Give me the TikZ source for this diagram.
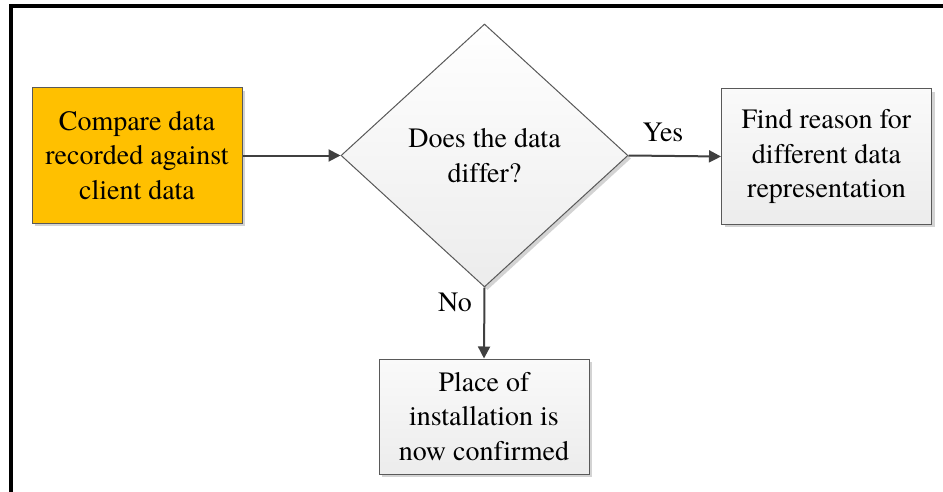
\documentclass[tikz,border=0pt]{standalone}
\usepackage{fontspec}
\setmainfont{texgyretermes-regular.otf}[Ligatures=NoCommon]
\newfontfamily\flowfont{texgyretermes-regular.otf}[Ligatures=NoCommon]
\usetikzlibrary{shapes.geometric,arrows.meta,shadows}

\tikzset{every picture/.style={line width=0.75pt}}
\tikzset{
  procbox/.style={draw={rgb,255:red,89;green,89;blue,89}, line width=0.75pt, minimum width=157.5pt, minimum height=101.25pt, inner sep=0.75pt, align=center, font=\flowfont\fontsize{21}{26}\selectfont, drop shadow={shadow xshift=2.25pt, shadow yshift=-2.25pt, fill={rgb,255:red,200;green,200;blue,200}, opacity=0.8}},
  greybox/.style={procbox, top color={rgb,255:red,250;green,250;blue,250}, bottom color={rgb,255:red,236;green,236;blue,236}},
  decision/.style={diamond, draw={rgb,255:red,89;green,89;blue,89}, line width=0.75pt, minimum width=215.25pt, minimum height=197.25pt, inner sep=0pt, align=center, font=\flowfont\fontsize{21}{26}\selectfont, top color=white, bottom color={rgb,255:red,236;green,236;blue,236}, drop shadow={shadow xshift=2.25pt, shadow yshift=-2.25pt, fill={rgb,255:red,200;green,200;blue,200}, opacity=0.8}},
  flow/.style={draw={rgb,255:red,64;green,64;blue,64}, line width=1.5pt, -{Triangle[length=9pt,width=9pt]}},
  answer/.style={inner sep=0.75pt, font=\flowfont\fontsize{21}{26}\selectfont}
}

\begin{document}
\begin{tikzpicture}[x=0.75pt,y=0.75pt,yscale=-1,xscale=1]
\useasboundingbox (0,0) rectangle (943,492);

%Frame: top and left edge
\draw [line width=3pt] (11,492) -- (11,6) -- (943,6) ;

%Shape: Rectangle [id:compare]
\node (compare) [procbox, fill={rgb,255:red,255;green,192;blue,0}] at (137,155.5) {Compare data\\recorded against\\client data};
%Shape: Diamond [id:differ]
\node (differ) [decision] at (484.5,155.5) {Does the data\\differ?};
%Shape: Rectangle [id:reason]
\node (reason) [greybox] at (826.5,156.5) {Find reason for\\different data\\representation};
%Shape: Rectangle [id:confirmed]
\node (confirmed) [greybox, minimum height=86.25pt] at (484,416.5) {Place of\\installation is\\now confirmed};

%Straight Lines
\draw [flow] (compare.east) -- (differ.west) ;
\draw [flow] (differ.east) -- (reason.west) ;
\draw [flow] (differ.south) -- (confirmed.north) ;

% Text Node
\node (yes) [answer] at (663,132) {Yes};
% Text Node
\node (no) [answer] at (455,302) {No};

\end{tikzpicture}
\end{document}
